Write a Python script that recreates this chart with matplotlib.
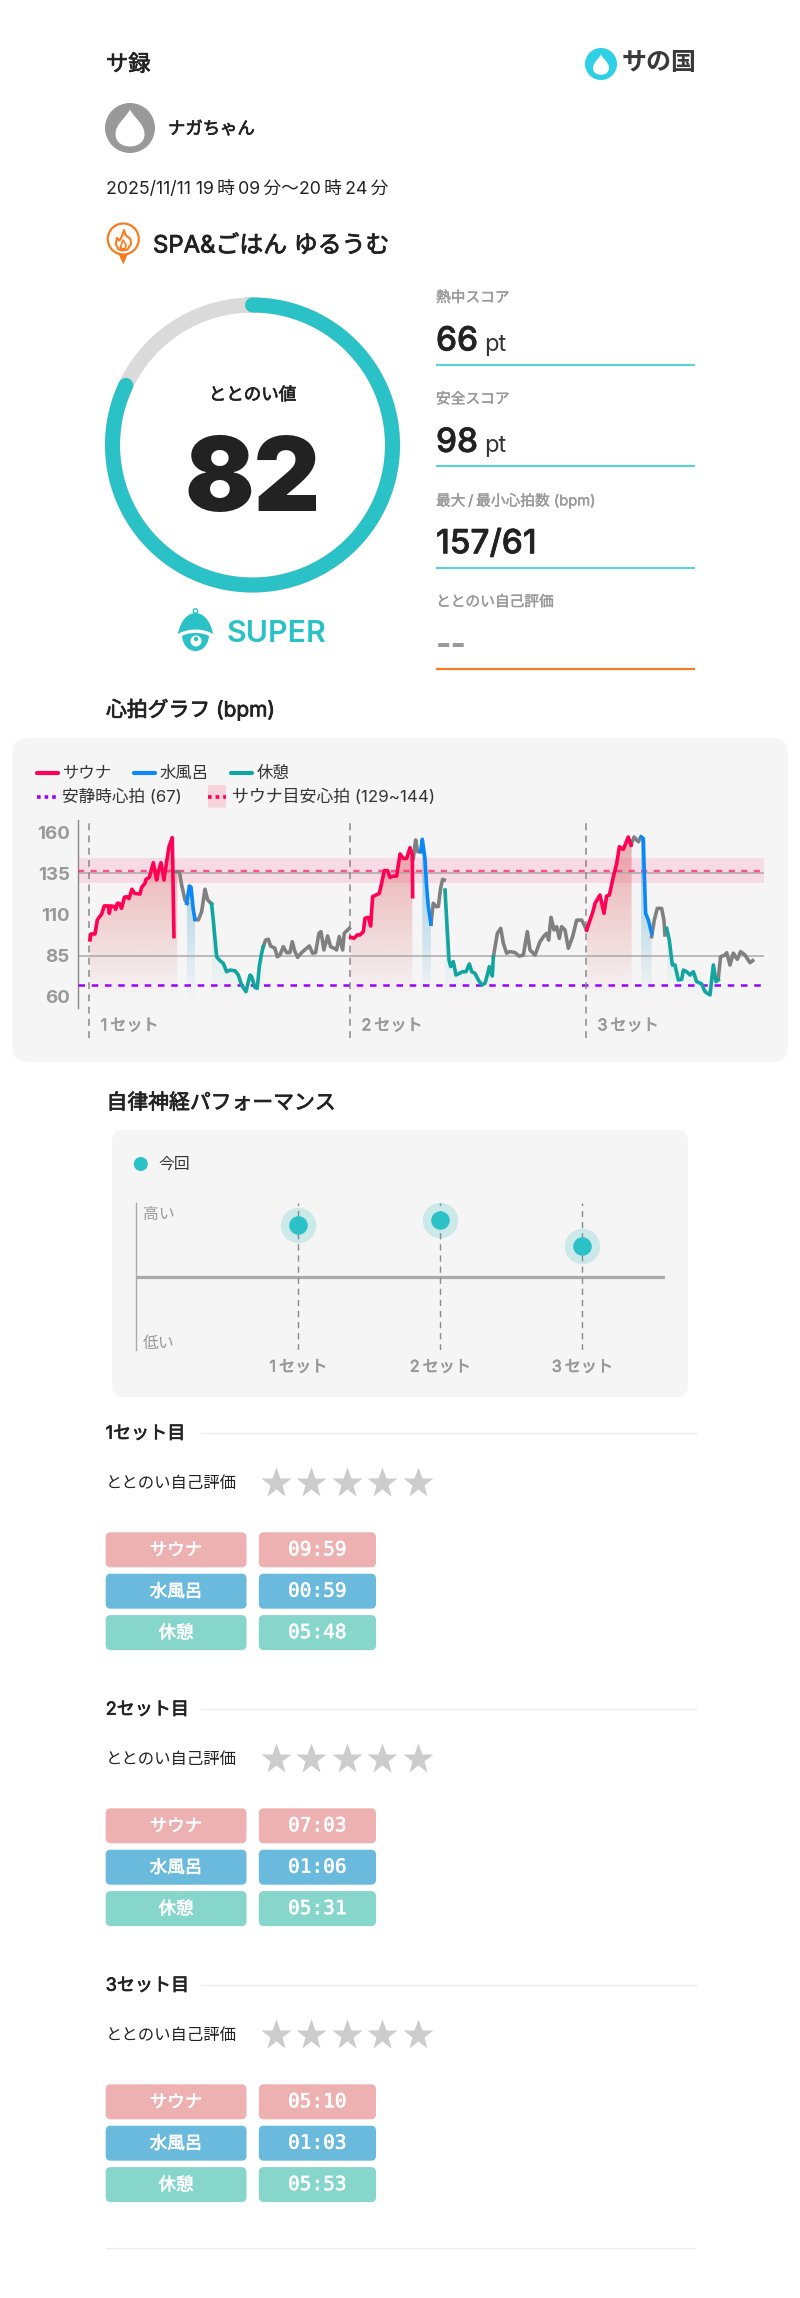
import matplotlib
matplotlib.use("Agg")
import matplotlib.pyplot as plt
import matplotlib.patheffects as pe
import numpy as np
from matplotlib.patches import Circle, FancyBboxPatch, PathPatch, Polygon
from matplotlib.path import Path

plt.rcParams['font.family'] = ['Inter', 'Noto Sans CJK JP', 'DejaVu Sans']

W, H = 800, 2298

# heart rate, one pair of lists per stretch of the session (minutes since 19:09, bpm)
sauna1_t = [0.08, 0.2, 0.65, 0.91, 1.40, 1.70, 2.16, 2.27, 2.42, 2.84, 2.99, 3.17, 3.40, 3.66, 3.97, 4.23, 4.49, 4.83, 5.13, 5.74, 5.93, 6.30, 6.42, 6.79, 7.25, 7.62, 7.81, 8.11, 8.45, 8.75, 9.02, 9.39, 9.58]
sauna1_bpm = [94.6, 98.2, 98.2, 106.7, 110.3, 115.2, 115.2, 110.7, 115.2, 114.8, 113.1, 116.8, 116.8, 113.7, 120.4, 120.8, 119.6, 125.3, 122.8, 122.4, 126.5, 128.9, 131.3, 132.5, 141.4, 130.9, 136, 141.4, 130.9, 142, 151.1, 156.6, 96.6]
rest_gray1_t = [9.70, 10.19, 10.45, 10.83, 11.09]
rest_gray1_bpm = [136, 136, 127.9, 118.8, 116.8]
water1_t = [11.02, 11.32, 11.51, 11.77, 11.96]
water1_bpm = [116.8, 127.3, 126.5, 112.7, 107]
gray2_t = [11.96, 12.34, 12.71, 13.09, 13.39, 13.84]
gray2_bpm = [107, 106.7, 111.7, 125.3, 118.9, 116.4]
rest1_t = [13.84, 14.03, 14.41, 14.78, 15.16, 15.54, 15.91, 16.48, 16.86, 17.23, 17.72, 18.18, 18.36, 18.74, 19.0, 19.23, 19.49, 19.68]
rest1_bpm = [116.3, 106.6, 84.4, 82, 80.4, 75.3, 76.3, 75.9, 73.3, 67.3, 63.2, 73.3, 72.3, 65.8, 65.2, 78.4, 86.4, 90.5]
gray3_t = [19.68, 19.95, 20.25, 20.51, 21.0, 21.27, 21.57, 21.95, 22.32, 22.70, 22.96, 23.26, 23.57, 24.02, 24.58, 24.89, 25.26, 25.60, 25.98, 26.21, 26.54, 26.96, 27.30, 27.71, 27.98, 28.28, 28.66, 28.84, 29.41]
gray3_bpm = [90.5, 94.5, 95, 90.9, 89.5, 84.4, 85.4, 90.5, 86.9, 86.9, 93.5, 87.5, 84, 86.9, 89.5, 90.9, 86.5, 86.9, 98.6, 99.6, 88.5, 97, 90.5, 89.5, 88.5, 96.6, 88.5, 98.6, 101.6]

sauna2_t = [29.57, 29.94, 30.32, 30.62, 31.0, 31.19, 31.56, 31.83, 32.05, 32.43, 32.81, 33.15, 33.37, 33.75, 34.01, 34.39, 34.77, 35.15, 35.52, 35.90, 36.28, 36.54, 36.58]
sauna2_bpm = [96.2, 95.6, 97.6, 97.6, 99.6, 107.7, 108.3, 103, 120.8, 121.8, 122.8, 130.9, 136.6, 136.6, 132.5, 133.3, 133.3, 146.7, 144, 144, 150.5, 146.1, 120.8]
gray4_t = [36.65, 36.92, 37.14, 37.48]
gray4_bpm = [144, 155.2, 148.1, 148.1]
water2_t = [37.48, 37.67, 37.97, 38.16, 38.35, 38.65]
water2_bpm = [148.1, 155.6, 144, 126.9, 114.8, 104.2]
gray5_t = [38.65, 38.91, 39.22, 39.48, 39.74, 39.97, 40.16]
gray5_bpm = [104.2, 116.8, 114.8, 114.8, 125.9, 131.3, 130.9]
rest2_t = [40.24, 40.43, 40.69, 40.88, 41.18, 41.48, 41.86, 42.24, 42.61, 42.99, 43.26, 43.63, 44.01, 44.39, 44.76, 45.03, 45.25, 45.59, 45.71]
rest2_bpm = [124.8, 106.6, 82.4, 78.4, 81.4, 73.3, 74.3, 75.3, 75.3, 80, 75.3, 74.3, 70.3, 67.3, 68.3, 73.3, 78.4, 72.7, 84.4]
gray6_t = [45.71, 46.16, 46.54, 46.84, 47.21, 47.59, 48.16, 48.61, 49.10, 49.55, 49.85, 50.42, 50.98, 51.44, 51.74, 51.96, 52.23, 52.57, 52.87, 53.17, 53.43, 53.81, 54.19, 54.68, 55.13, 55.70, 56.26]
gray6_bpm = [84.4, 98.6, 101.6, 92.5, 86.5, 87.5, 86.9, 84.8, 85.4, 99.6, 88.5, 85.4, 93.5, 97, 98.6, 94.5, 108.3, 100.6, 102.6, 95.5, 102.6, 100.6, 89.5, 96.6, 106.6, 106.6, 100.6]

sauna3_t = [56.26, 56.64, 56.94, 57.21, 57.77, 58.22, 58.52, 58.83, 59.28, 59.66, 59.96, 60.41, 60.97, 61.28]
sauna3_bpm = [100.6, 106.6, 111.1, 116.8, 121.8, 110.7, 121.2, 121.8, 132.9, 141, 151.1, 149.5, 157, 152.1]
gray7_t = [61.28, 61.62, 62.11, 62.41]
gray7_bpm = [152.1, 157, 154.1, 157]
water3_t = [62.41, 62.67, 62.78, 62.93, 63.24, 63.61]
water3_bpm = [157, 156.1, 134.9, 110.7, 106.6, 98.6]
gray8_t = [63.61, 63.91, 64.25, 64.74, 65.0, 65.12]
gray8_bpm = [96.6, 106.6, 113.7, 113.7, 106.6, 97.6]
rest3_t = [65.31, 65.61, 65.95, 66.25, 66.63, 67.01, 67.2, 67.57, 67.95, 68.33, 68.7, 69.27, 69.65, 70.21, 70.59, 70.89, 71.15]
rest3_bpm = [101.6, 94.5, 79.4, 79.4, 70.3, 70.7, 76.3, 75.3, 73.3, 75.3, 69.3, 67.9, 63.2, 61.2, 79.4, 69.3, 70.3]
gray9_t = [71.15, 71.41, 71.91, 72.1, 72.47, 72.85, 73.3, 73.68, 74.17, 74.73, 75.04]
gray9_bpm = [71.3, 84.4, 85.4, 86.8, 79.4, 86.5, 82.8, 87.5, 85.4, 80.8, 82]

set_starts = [0, 29.49, 56.19]
set_labels = ['1\u2009セット', '2\u2009セット', '3\u2009セット']
bpm_ticks = [60, 85, 110, 135, 160]
bpm_grid = [85, 135]
resting_hr = 67
target_low, target_high = 129, 144

# autonomic performance, -1 .. 1
perf_values = [0.70, 0.77, 0.41]

# score block
totonoi = 82
score_labels = ['熱中スコア', '安全スコア', '最大\u2009/\u2009最小心拍数 (bpm)', 'ととのい自己評価']
score_values = ['66', '98', '157/61', '--']
score_units = ['pt', 'pt', '', '']

# per set durations
phase_names = ['サウナ', '水風呂', '休憩']
phase_colors = ['#EEB1B2', '#69BADD', '#86D6CC']
durations = [['09:59', '00:59', '05:48'], ['07:03', '01:06', '05:31'], ['05:10', '01:03', '05:53']]
section_titles = ['1セット目', '2セット目', '3セット目']

TEAL = '#2AC1C7'
INK = '#222222'
GRAY = '#999999'
RED = '#FF0055'
BLUE = '#0A88F5'
GREEN = '#12A5A0'
LINE_GRAY = '#808080'
ORANGE = '#F57C1F'


def px_axes(fig, x0, y0, x1, y1, **kw):
    return fig.add_axes([x0 / W, 1 - y1 / H, (x1 - x0) / W, (y1 - y0) / H], **kw)


def txt(ax, x, y, s, size, color=INK, weight='normal', ha='left', va='center', stroke=0, **kw):
    # CJK glyphs sit a bit high with va=center
    if va == 'center':
        y = y + 1.5
    t = ax.text(x, y, s, fontsize=size, color=color, fontweight=weight, ha=ha, va=va, **kw)
    if stroke:
        # no medium weight installed, thicken the regular one
        t.set_path_effects([pe.withStroke(linewidth=stroke, foreground=color)])
    return t


def rrect(ax, x0, y0, x1, y1, r, color):
    ax.add_patch(FancyBboxPatch((x0 + r, y0 + r), x1 - x0 - 2 * r, y1 - y0 - 2 * r,
                                boxstyle=f"round,pad={r},rounding_size={r}", fc=color, ec='none'))


def drop(ax, cx, cy, r, color):
    pts = [(0, -1.45), (0.25, -0.9), (1, -0.45), (1, 0.25), (1, 0.8), (0.55, 1.1), (0, 1.1),
           (-0.55, 1.1), (-1, 0.8), (-1, 0.25), (-1, -0.45), (-0.25, -0.9), (0, -1.45), (0, -1.45)]
    codes = [Path.MOVETO] + [Path.CURVE4] * 12 + [Path.CLOSEPOLY]
    verts = [(cx + a * r, cy + b * r) for a, b in pts]
    ax.add_patch(PathPatch(Path(verts, codes), fc=color, ec='none'))


def grad_fill(ax, t, bpm, rgb, top_alpha, y_top=160, y_bot=58):
    poly = ax.fill_between(t, bpm, y_bot, color='none', lw=0)
    img = np.zeros((256, 1, 4))
    img[..., 0], img[..., 1], img[..., 2] = rgb[0] / 255, rgb[1] / 255, rgb[2] / 255
    img[:, 0, 3] = np.linspace(top_alpha, 0, 256)
    im = ax.imshow(img, extent=[t[0], t[-1], y_bot, y_top], aspect='auto', origin='upper', zorder=1.5)
    im.set_clip_path(poly.get_paths()[0], transform=ax.transData)


fig = plt.figure(figsize=(W / 100, H / 100), dpi=100, facecolor='white')
page = fig.add_axes([0, 0, 1, 1])
page.set_xlim(0, W)
page.set_ylim(H, 0)
page.axis('off')

# header
txt(page, 106, 63, 'サ録', 16, stroke=0.5)
page.add_patch(Circle((601, 64), 16, fc='#2ED0E6', ec='none'))
drop(page, 601, 66, 8, 'white')
txt(page, 659.5, 62.5, 'サの国', 18, color='#3A3A3A', weight='bold', ha='center')
page.add_patch(Circle((130, 128), 25, fc=GRAY, ec='none'))
drop(page, 130, 130.5, 14.5, 'white')
txt(page, 168, 128, 'ナガちゃん', 12.5, stroke=0.5)
txt(page, 106, 188, '2025/11/11 19\u2009時\u200909\u2009分〜20\u2009時\u200924\u2009分', 12.8)

# shop pin
page.add_patch(Polygon([(119, 253), (123.3, 263), (127.5, 253)], fc=ORANGE, ec=ORANGE, lw=1, joinstyle='round'))
page.add_patch(Circle((123.3, 239), 15.5, fc='white', ec=ORANGE, lw=1.6))
flame = [(124, 230), (125.5, 235), (130.5, 239), (131, 244), (127.5, 249.5), (123, 250.5), (118.5, 249.5), (115.8, 244),
         (117, 238), (119.5, 240.5), (122, 236), (124, 230)]
page.add_patch(Polygon(flame, fc='none', ec=ORANGE, lw=1.5, joinstyle='round'))
page.plot([120.5, 123, 126, 125.5, 123, 120.5, 120.5], [247, 240, 244.5, 248, 249, 248, 247], color=ORANGE, lw=1.2)
txt(page, 153, 245, 'SPA&ごはん ゆるうむ', 17.2, stroke=0.6)

# gauge
gauge = px_axes(fig, 252.5 - 150, 445 - 150, 252.5 + 150, 445 + 150, projection='polar')
gauge.set_theta_zero_location('N')
gauge.set_theta_direction(-1)
gauge.set_rlim(0, 150)
gauge.axis('off')
gauge.patch.set_alpha(0)
theta = np.linspace(0, 2 * np.pi, 361)
gauge.plot(theta, np.full_like(theta, 140), color='#DADADA', lw=10.8)
theta = np.linspace(0, totonoi / 100 * 2 * np.pi, 300)
gauge.plot(theta, np.full_like(theta, 140), color=TEAL, lw=10.8, solid_capstyle='round')

txt(page, 252.5, 394, 'ととのい値', 12.6, stroke=0.5, ha='center')
txt(page, 252.5, 482, str(totonoi), 74, weight='black', ha='center')

# bell icon + rank
dome = Path([(178, 634), (180, 622), (187, 613), (195.5, 613), (204, 613), (211, 622), (213, 634),
             (203, 628), (188, 628), (178, 634), (178, 634)],
            [Path.MOVETO] + [Path.CURVE4] * 9 + [Path.CLOSEPOLY])
page.add_patch(PathPatch(dome, fc=TEAL, ec='none'))
page.add_patch(Circle((195.5, 611), 2.2, fc='white', ec=TEAL, lw=1))
bowl = Path([(182, 636), (189, 632), (202, 632), (209, 636), (208, 646), (202, 651), (195.5, 651),
             (189, 651), (183, 646), (182, 636), (182, 636)],
            [Path.MOVETO] + [Path.CURVE4] * 9 + [Path.CLOSEPOLY])
page.add_patch(PathPatch(bowl, fc=TEAL, ec='none'))
page.add_patch(Circle((196, 641), 5.5, fc='white', ec='none'))
page.add_patch(Circle((196, 639), 2.2, fc=TEAL, ec='none'))
txt(page, 226, 632, 'SUPER', 21.8, color=TEAL, weight='semibold')

# score column
for i, lab in enumerate(score_labels):
    y0 = i * 101.4
    txt(page, 436, 296.5 + y0, lab, 10.6, color=GRAY, stroke=0.25)
    line_col = '#5FD0D4' if i < 3 else ORANGE
    page.plot([436, 695], [365 + y0, 365 + y0], color=line_col, lw=1.6, solid_capstyle='butt')
    if i < 3:
        txt(page, 436, 350.5 + y0, score_values[i], 24, weight='medium', va='baseline', stroke=0.5)
        if score_units[i]:
            txt(page, 484, 350.5 + y0, score_units[i], 17, color='#333333', va='baseline')
    else:
        txt(page, 436, 340 + y0, score_values[i], 24, color=GRAY, weight='bold')

# heart rate card
txt(page, 106, 708, '心拍グラフ (bpm)', 15, stroke=0.55)
rrect(page, 12.5, 738, 788, 1062, 15, '#F5F5F5')
for x0, x1, name, col in [(37, 58, 'サウナ', RED), (134, 155, '水風呂', BLUE), (231, 252, '休憩', GREEN)]:
    page.plot([x0, x1], [772.7, 772.7], color=col, lw=3, solid_capstyle='round')
    txt(page, x1 + 4.5, 771.5, name, 11.8, color='#333333')
page.plot([37, 57], [796.7, 796.7], color='#9A00FF', lw=2.6, ls=(0, (1, 1.1)))
txt(page, 62.5, 795.5, '安静時心拍 (67)', 12, color='#333333')
rrect(page, 208, 785, 226, 807.7, 0.1, '#F8D3DE')
page.plot([208, 226], [796.7, 796.7], color=RED, lw=2.6, ls=(0, (1, 1.1)))
txt(page, 232, 795.5, 'サウナ目安心拍 (129~144)', 12.2, color='#333333')

# px: x 77.5-764, y 820-1008
hr = px_axes(fig, 77.5, 820, 764, 1008)
hr.patch.set_visible(False)
hr.axhspan(target_low, target_high, color='#F9C9D8', alpha=0.58, lw=0, zorder=1)
for b in bpm_grid:
    hr.axhline(b, color='#AAAAAA', lw=1.1, zorder=2)
hr.axhline((target_low + target_high) / 2, color='#FF2E6E', lw=1.7, ls=(0, (2.6, 2.7)), alpha=0.8, zorder=3)
hr.axhline(resting_hr, color='#9A00FF', lw=1.8, ls=(0, (2.6, 2.7)), zorder=3)

grad_fill(hr, sauna1_t[:-1] + [9.70, 9.96], sauna1_bpm[:-1] + [136, 136], (222, 80, 85), 0.46)
grad_fill(hr, sauna2_t[:-1] + [36.54], sauna2_bpm[:-1] + [146], (222, 80, 85), 0.46)
grad_fill(hr, sauna3_t + [61.35], sauna3_bpm + [152], (222, 80, 85), 0.46)
for t, b in [(water1_t, water1_bpm), (water2_t[1:], water2_bpm[1:]), (water3_t, water3_bpm)]:
    grad_fill(hr, t, b, (70, 165, 210), 0.6)
for t, b in [(rest1_t, rest1_bpm), (rest2_t, rest2_bpm), (rest3_t, rest3_bpm)]:
    grad_fill(hr, t, b, (70, 190, 185), 0.42)

for t, b in [(rest_gray1_t, rest_gray1_bpm), (gray2_t, gray2_bpm), (gray3_t, gray3_bpm), (gray4_t, gray4_bpm),
             (gray5_t, gray5_bpm), (gray6_t, gray6_bpm), (gray7_t, gray7_bpm), (gray8_t, gray8_bpm), (gray9_t, gray9_bpm)]:
    hr.plot(t, b, color=LINE_GRAY, lw=2.6, zorder=4)
for t, b in [(sauna1_t, sauna1_bpm), (sauna2_t, sauna2_bpm), (sauna3_t, sauna3_bpm)]:
    hr.plot(t, b, color=RED, lw=2.6, zorder=4)
for t, b in [(water1_t, water1_bpm), (water2_t, water2_bpm), (water3_t, water3_bpm)]:
    hr.plot(t, b, color=BLUE, lw=2.6, zorder=4)
for t, b in [(rest1_t, rest1_bpm), (rest2_t, rest2_bpm), (rest3_t, rest3_bpm)]:
    hr.plot(t, b, color=GREEN, lw=2.6, zorder=4)

hr.set_xlim(-1.33, 76.32)
hr.set_ylim(53.3, 167.3)
for s in ['top', 'right', 'bottom']:
    hr.spines[s].set_visible(False)
hr.spines['left'].set_color('#888888')
hr.spines['left'].set_linewidth(1.0)
hr.set_xticks([])
hr.set_yticks(bpm_ticks)
hr.tick_params(axis='y', length=0, pad=5.5, labelsize=13.5, labelcolor=GRAY)
for tl in hr.get_yticklabels():
    tl.set_fontweight('bold')
for s, lab in zip(set_starts, set_labels):
    hr.plot([s, s], [35, 167.3], color='#888888', lw=1.1, ls=(0, (4.5, 3.5)), clip_on=False, zorder=3)
    hr.text(s + 1.3, 42.5, lab, fontsize=11.6, color=GRAY, va='center', clip_on=False,
            path_effects=[pe.withStroke(linewidth=0.5, foreground=GRAY)])

# autonomic performance card
txt(page, 106.5, 1101.5, '自律神経パフォーマンス', 15, stroke=0.55)
rrect(page, 112, 1130, 688, 1397, 12, '#F6F5F5')
page.add_patch(Circle((140.8, 1164), 7, fc=TEAL, ec='none'))
txt(page, 158.5, 1163, '今回', 11.4, color='#333333')

perf = px_axes(fig, 135.5, 1203, 665, 1350)
perf.patch.set_visible(False)
xs = np.arange(len(perf_values))
perf.axhline(0, color='#AAAAAA', lw=2.3, zorder=2)
perf.scatter(xs, perf_values, s=650, color='#CCE9EA', lw=0, zorder=2.5, clip_on=False)
perf.vlines(xs, -1, 1, color='#888888', lw=1, ls=(0, (4.5, 3.5)), zorder=3)
perf.scatter(xs, perf_values, s=178, color=TEAL, lw=0, zorder=4, clip_on=False)
perf.set_xlim(-1.147, 2.582)
perf.set_ylim(-1, 1)
for s in ['top', 'right', 'bottom']:
    perf.spines[s].set_visible(False)
perf.spines['left'].set_color('#AAAAAA')
perf.spines['left'].set_linewidth(1)
perf.set_yticks([])
perf.set_xticks(xs)
perf.set_xticklabels(set_labels, fontsize=11.6, color=GRAY)
for tl in perf.get_xticklabels():
    tl.set_path_effects([pe.withStroke(linewidth=0.5, foreground=GRAY)])
perf.tick_params(axis='x', length=0, pad=7)
perf.text(-1.097, 0.85, '高い', fontsize=11.4, color=GRAY, va='center')
perf.text(-1.097, -0.91, '低い', fontsize=11.4, color=GRAY, va='center')

# per set sections
for k, title in enumerate(section_titles):
    dy = k * 276
    txt(page, 105.7, 1432.7 + dy, title, 13, stroke=0.5)
    page.plot([200.5, 695.5], [1432.7 + dy, 1432.7 + dy], color='#EBEBEB', lw=1)
    txt(page, 106, 1482 + dy, 'ととのい自己評価', 11.8)
    page.plot([276, 311.4, 347, 382, 417.6], [1482.7 + dy] * 5, ls='none', marker='*', ms=23,
              mfc='#CCCCCC', mec='none')
    for j, name in enumerate(phase_names):
        y0 = 1532.3 + dy + j * 41.4
        y1 = y0 + 35
        rrect(page, 105.7, y0, 246.5, y1, 5, phase_colors[j])
        rrect(page, 258.8, y0, 376, y1, 5, phase_colors[j])
        txt(page, 176, (y0 + y1) / 2 - 0.5, name, 12.6, color='white', stroke=0.4, ha='center')
        txt(page, 317.4, (y0 + y1) / 2 - 1.5, durations[k][j], 14, color='white', ha='center',
            family=['DejaVu Sans Mono'], stroke=0.4)

page.plot([106, 695], [2248, 2248], color='#EBEBEB', lw=1)

fig.savefig('out.png', dpi=100)
